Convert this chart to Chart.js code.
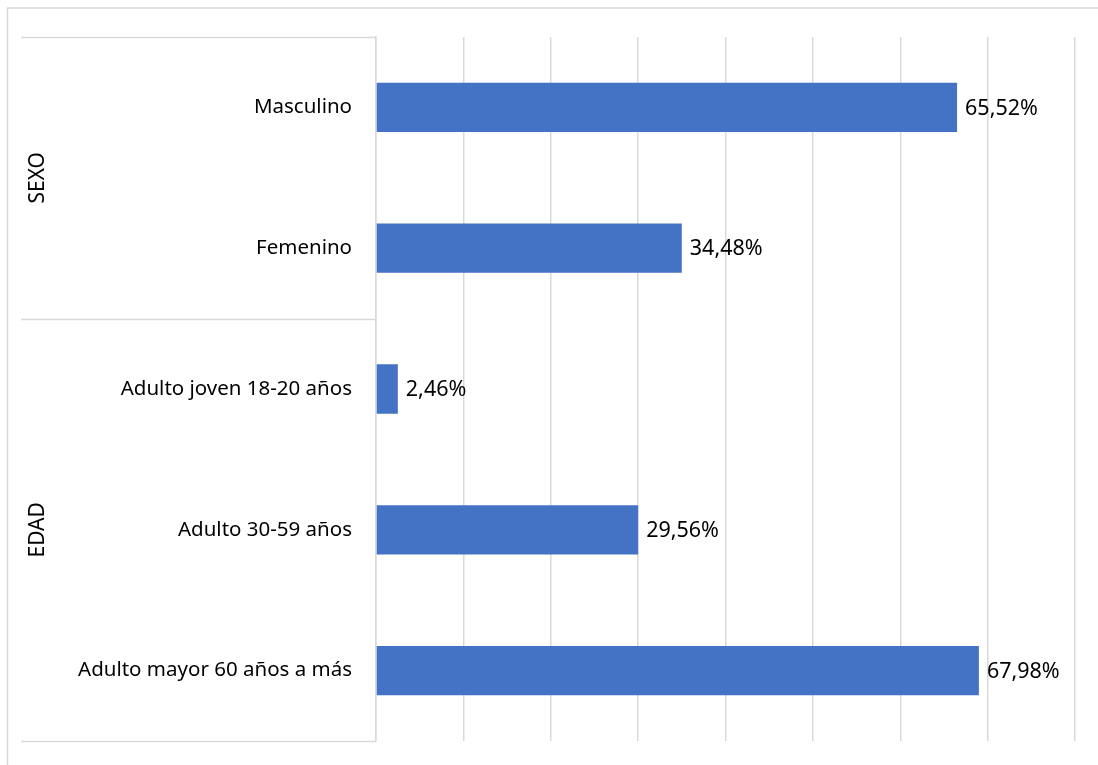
<!DOCTYPE html>
<html>
<head>
<meta charset="utf-8">
<script src="https://cdn.jsdelivr.net/npm/chart.js@4"></script>
<style>
  html, body { margin: 0; padding: 0; background: #fff; }
  #wrap { position: relative; width: 1098px; height: 765px; }
</style>
</head>
<body>
<div id="wrap"><canvas id="chart"></canvas></div>
<script>
// Categories (bottom-level labels) and their group (top-level labels)
const categories = ['Masculino', 'Femenino', 'Adulto joven 18-20 años', 'Adulto 30-59 años', 'Adulto mayor 60 años a más'];
const groups = [
  { label: 'SEXO', from: 0, to: 1 },
  { label: 'EDAD', from: 2, to: 4 }
];
// Percentages shown next to each bar
const percentages = [65.52, 34.48, 2.46, 29.56, 67.98];
// Sample size: each gridline stands for 20 respondents out of 203
const sampleSize = 203;
const gridCount = 20;
const gridLines = 8;

const gridStep = gridCount * 100 / sampleSize;
const axisMax = gridStep * gridLines;

const FONT = "'Noto Sans', 'Open Sans', sans-serif";
const GRID_COLOR = '#D9D9D9';

// Group brackets on the category axis plus the outer frame
const groupAxisPlugin = {
  id: 'groupAxis',
  beforeDraw(chart) {
    const ctx = chart.ctx;
    ctx.save();
    ctx.fillStyle = '#fff';
    ctx.fillRect(0, 0, chart.width, chart.height);
    ctx.strokeStyle = GRID_COLOR;
    ctx.lineWidth = 1.5;
    ctx.beginPath();
    ctx.moveTo(7.5, chart.height);
    ctx.lineTo(7.5, 8);
    ctx.lineTo(chart.width, 8);
    ctx.stroke();
    ctx.restore();
  },
  afterDraw(chart) {
    const ctx = chart.ctx;
    const y = chart.scales.y;
    const area = chart.chartArea;
    const left = chart.options.layout.padding.left;
    const half = (y.getPixelForValue(1) - y.getPixelForValue(0)) / 2;
    ctx.save();
    ctx.strokeStyle = GRID_COLOR;
    ctx.lineWidth = 1.5;
    const edges = new Set();
    groups.forEach(g => {
      edges.add(Math.round(y.getPixelForValue(g.from) - half));
      edges.add(Math.round(y.getPixelForValue(g.to) + half));
    });
    ctx.beginPath();
    edges.forEach(py => {
      ctx.moveTo(left, py + 0.5);
      ctx.lineTo(area.left, py + 0.5);
    });
    ctx.stroke();
    ctx.fillStyle = '#000';
    ctx.font = `21px ${FONT}`;
    ctx.textAlign = 'center';
    ctx.textBaseline = 'middle';
    groups.forEach(g => {
      const cy = (y.getPixelForValue(g.from) + y.getPixelForValue(g.to)) / 2;
      ctx.save();
      ctx.translate(left + 17, cy);
      ctx.rotate(-Math.PI / 2);
      ctx.fillText(g.label, 0, 0);
      ctx.restore();
    });
    ctx.restore();
  }
};

// Percentage labels at the end of each bar
const valueLabelPlugin = {
  id: 'valueLabels',
  afterDatasetsDraw(chart) {
    const ctx = chart.ctx;
    const meta = chart.getDatasetMeta(0);
    ctx.save();
    ctx.fillStyle = '#000';
    ctx.font = `21.5px ${FONT}`;
    ctx.textAlign = 'left';
    ctx.textBaseline = 'middle';
    meta.data.forEach((bar, i) => {
      const txt = percentages[i].toFixed(2).replace('.', ',') + '%';
      ctx.fillText(txt, bar.x + 8, bar.y + 1);
    });
    ctx.restore();
  }
};

new Chart(document.getElementById('chart'), {
  type: 'bar',
  data: {
    labels: categories,
    datasets: [{
      data: percentages,
      backgroundColor: '#4472C4',
      borderWidth: 0,
      categoryPercentage: 1,
      barPercentage: 0.35
    }]
  },
  options: {
    indexAxis: 'y',
    responsive: true,
    maintainAspectRatio: false,
    animation: false,
    devicePixelRatio: 1,
    layout: { padding: { left: 21, top: 37, right: 23, bottom: 24 } },
    plugins: { legend: { display: false }, tooltip: { enabled: false } },
    scales: {
      x: {
        min: 0,
        max: axisMax,
        afterBuildTicks(scale) {
          scale.ticks = Array.from({ length: gridLines + 1 }, (_, i) => ({ value: i * gridStep }));
        },
        afterFit(scale) { scale.height = 0; },
        ticks: { display: false },
        grid: { color: GRID_COLOR, lineWidth: 1.5, drawTicks: false },
        border: { display: false }
      },
      y: {
        afterFit(scale) {
          scale.width = 376 - 21;
          scale.paddingTop = 0;
          scale.paddingBottom = 0;
        },
        ticks: {
          color: '#000',
          padding: 24,
          font: { family: FONT, size: 20.5 }
        },
        grid: { display: false, drawTicks: false },
        border: { display: true, color: GRID_COLOR, width: 1.5 }
      }
    }
  },
  plugins: [groupAxisPlugin, valueLabelPlugin]
});
</script>
</body>
</html>
